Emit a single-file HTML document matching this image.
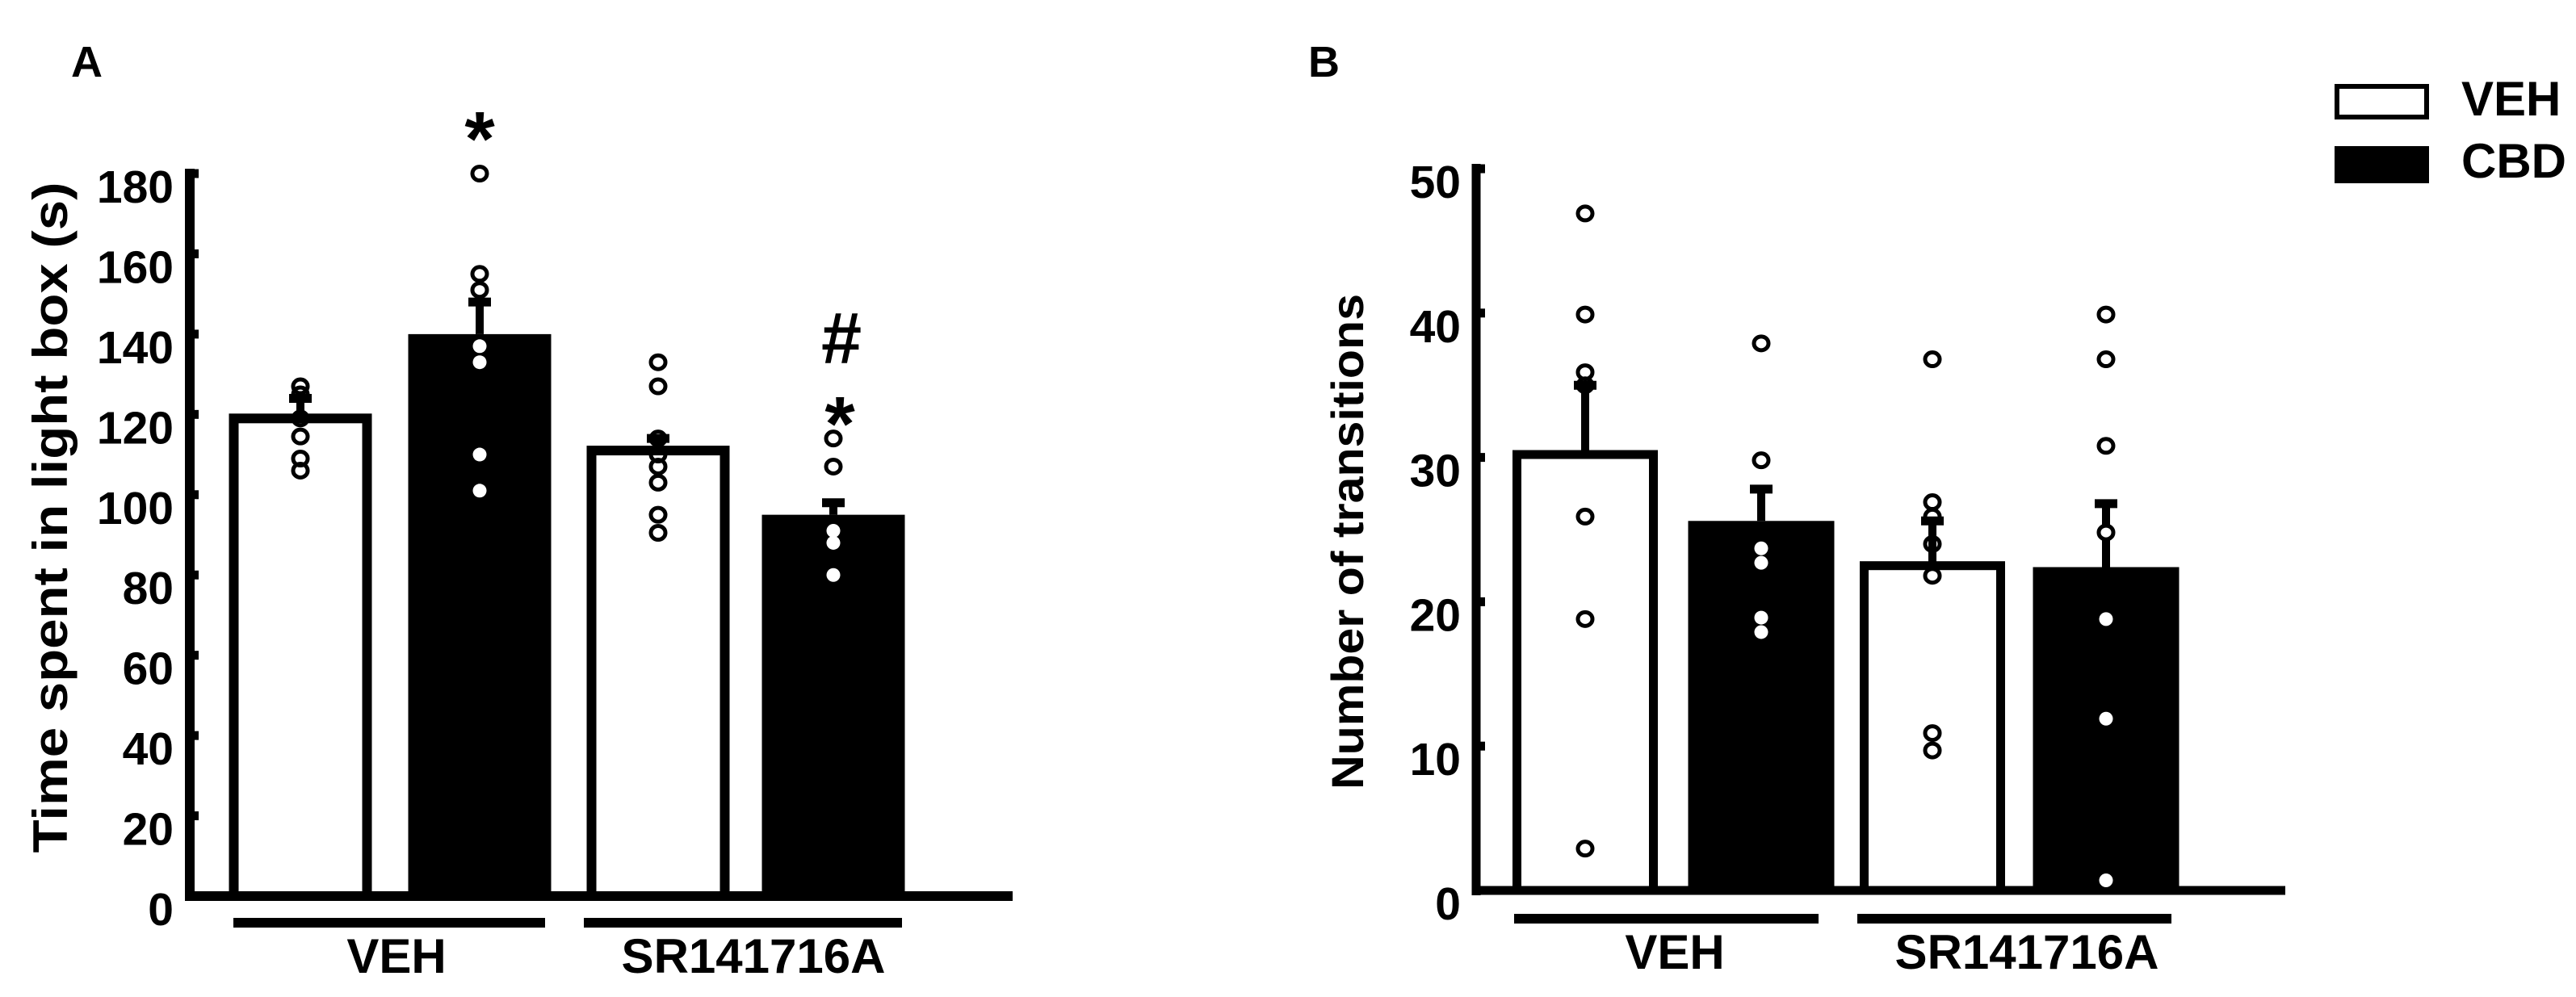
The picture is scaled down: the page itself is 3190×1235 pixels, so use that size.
<!DOCTYPE html>
<html><head><meta charset="utf-8"><style>
html,body{margin:0;padding:0;background:#fff;}
svg{display:block;font-family:"Liberation Sans",Arial,sans-serif;font-weight:bold;}
</style></head><body>
<svg id="fig" width="3190" height="1235" viewBox="0 0 3190 1235" xmlns="http://www.w3.org/2000/svg">
<g id="pa"></g>
<g id="pb"></g>
<g>
  <rect x="2894" y="107" width="111" height="38" fill="#fff" stroke="#000" stroke-width="6"/>
  <text x="3048" y="143" font-size="60">VEH</text>
  <rect x="2891" y="181" width="117" height="46" fill="#000"/>
  <text x="3048" y="220" font-size="60">CBD</text>
</g>
</svg>
<script>
// Panel A data
const catsA = ["VEH-VEH","VEH-CBD","SR-VEH","SR-CBD"];
const meansA = [119, 140, 111, 95];
const errA = [124, 148, 114, 98];
const ptsA0 = [127,125,119,114.5,109,106];
const ptsA1 = [180,155,151,137,133,110,101];
const ptsA2 = [133,127,114,110,107,103,95,90.5];
const ptsA3 = [114,107,91,88,80];
const ticksA = [0,20,40,60,80,100,120,140,160,180];
// Panel B data
const catsB = ["VEH-VEH","VEH-CBD","SR-VEH","SR-CBD"];
const meansB = [30.2, 25.6, 22.5, 22.4];
const errB = [35.0, 27.8, 25.6, 26.8];
const ptsB0 = [46.9,39.9,35.9,35.0,25.9,18.8,2.9];
const ptsB1 = [37.9,29.8,23.7,22.7,18.9,17.9];
const ptsB2 = [36.8,26.9,25.9,24.0,21.8,10.9,9.7];
const ptsB3 = [39.9,36.8,30.8,24.8,18.8,11.9,0.7];
const ticksB = [0,10,20,30,40,50];
const groupLabels = ["VEH","SR141716A"];

const NS="http://www.w3.org/2000/svg";
function mk(parent,tag,attrs,txt){const e=document.createElementNS(NS,tag);for(const k in attrs)e.setAttribute(k,attrs[k]);if(txt!==undefined)e.textContent=txt;parent.appendChild(e);return e;}

function panel(g,cfg){
  const y=v=>cfg.y0-(v-0)*(cfg.y0-cfg.yTop)/cfg.vmax;
  let e=mk(g,'line',{x1:cfg.ax,y1:cfg.yTop-6,x2:cfg.ax,y2:cfg.y0+6,stroke:'#000','stroke-width':cfg.aw});
  
  
  e=mk(g,'line',{x1:cfg.ax-5,y1:cfg.y0,x2:cfg.xEnd,y2:cfg.y0,stroke:'#000','stroke-width':cfg.aw});
  
  
  cfg.ticks.forEach(t=>{
    const tk=mk(g,'line',{x1:cfg.ax,y1:y(t),x2:cfg.ax+11,y2:y(t),stroke:'#000','stroke-width':11});
    
    
    const tl=mk(g,'text',{x:cfg.labX,y:y(t)+36,'font-size':57,'text-anchor':'end'},String(t));
    
    
  });
  cfg.means.forEach((m,i)=>{
    const cx=cfg.cx[i], hw=cfg.bw/2, filled=(i%2===1);
    const el=mk(g,'line',{x1:cx,y1:y(m),x2:cx,y2:y(cfg.err[i]),stroke:'#000','stroke-width':10});
    
    
    const ec=mk(g,'line',{x1:cx-14,y1:y(cfg.err[i]),x2:cx+14,y2:y(cfg.err[i]),stroke:'#000','stroke-width':11});
    
    
    let b;
    if(filled){
      b=mk(g,'rect',{x:cx-hw,y:y(m),width:cfg.bw,height:cfg.y0-y(m),fill:'#000'});
    } else {
      b=mk(g,'rect',{x:cx-hw+6,y:y(m),width:cfg.bw-12,height:cfg.y0-y(m),fill:'#fff',stroke:'#000','stroke-width':cfg.ow});
    }
    
    
    cfg.pts[i].forEach(p=>{
      let c;
      if(filled && p<m-0.5){
        c=mk(g,'ellipse',{cx:cx,cy:y(p),rx:8.5,ry:8.5,fill:'#fff'});
      } else {
        c=mk(g,'ellipse',{cx:cx,cy:y(p),rx:9,ry:8.5,fill:filled?'#fff':'none',stroke:'#000','stroke-width':5});
      }
      
      
    });
  });
  cfg.groups.forEach((gr,i)=>{
    const l=mk(g,'line',{x1:gr[0],y1:cfg.gy,x2:gr[1],y2:cfg.gy,stroke:'#000','stroke-width':12});
    
    
    const t=mk(g,'text',{x:cfg.glab[i],y:cfg.gly,'font-size':60,'text-anchor':'middle'},groupLabels[i]);
    
    
  });
  const tt=mk(g,'text',{x:0,y:0,'font-size':cfg.tfs,'text-anchor':'middle',transform:`translate(${cfg.tx},${cfg.ty}) rotate(-90)`,textLength:cfg.tlen,lengthAdjust:'spacingAndGlyphs'},cfg.title);
  
  
  const pl=mk(g,'text',{x:cfg.px,y:95,'font-size':54},cfg.plab);
  
  
  return y;
}

const yA=panel(document.getElementById('pa'),{
  y0:1110,yTop:215,vmax:180,ax:235,aw:12,xEnd:1254,labX:215,ticks:ticksA,
  means:meansA,err:errA,pts:[ptsA0,ptsA1,ptsA2,ptsA3],cats:catsA,
  cx:[372,594,815,1032],bw:177,ow:12,
  groups:[[289,675],[723,1117]],gy:1143,glab:[491,933],gly:1205,
  title:"Time spent in light box (s)",tx:83,ty:641,tfs:60,tlen:831,px:88,plab:"A"
});
const yB=panel(document.getElementById('pb'),{
  y0:1103,yTop:209,vmax:50,ax:1828,aw:11,xEnd:2830,labX:1809,ticks:ticksB,
  means:meansB,err:errB,pts:[ptsB0,ptsB1,ptsB2,ptsB3],cats:catsB,
  cx:[1963,2181,2393,2608],bw:181,ow:11,
  groups:[[1875,2252],[2300,2689]],gy:1138,glab:[2074,2510],gly:1200,
  title:"Number of  transitions",tx:1688,ty:671,tfs:56,tlen:614,px:1620,plab:"B"
});
const sg=document.getElementById('pa');
let s=mk(sg,'text',{x:594,y:205,'font-size':96,'text-anchor':'middle'},'*');


s=mk(sg,'text',{x:1042,y:450,'font-size':90,'text-anchor':'middle'},'#');


s=mk(sg,'text',{x:1040,y:558,'font-size':96,'text-anchor':'middle'},'*');


</script>
</body></html>
